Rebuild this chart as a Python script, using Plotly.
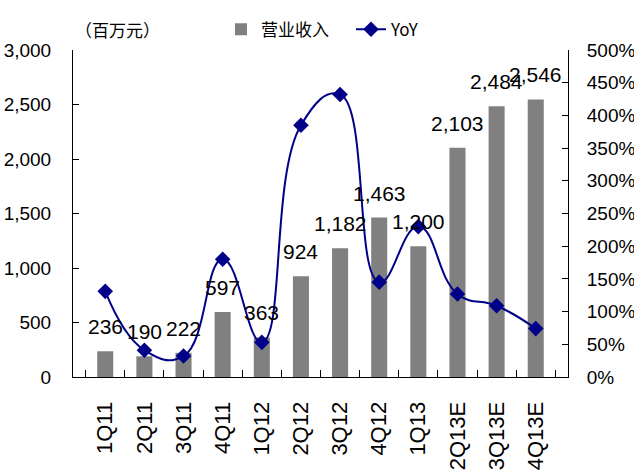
import plotly.graph_objects as go

quarters = ["1Q11", "2Q11", "3Q11", "4Q11", "1Q12", "2Q12", "3Q12", "4Q12",
            "1Q13", "2Q13E", "3Q13E", "4Q13E"]
revenue = [236, 190, 222, 597, 363, 924, 1182, 1463, 1200, 2103, 2484, 2546]
yoy_pct = [131, 41, 32, 180, 53, 385, 432, 145, 230, 127, 109, 74]

font_lat = "Liberation Sans, Arial, sans-serif"
font_cjk = "Noto Sans CJK SC, sans-serif"

fig = go.Figure()

fig.add_trace(go.Bar(
    x=quarters, y=revenue, name="营业收入",
    marker=dict(color="#808080", line=dict(width=0)),
    yaxis="y",
))

fig.add_trace(go.Scatter(
    x=quarters, y=yoy_pct, name="YoY",
    mode="lines+markers",
    line=dict(color="#000088", width=2, shape="spline", smoothing=1.3),
    marker=dict(symbol="diamond", size=12, color="#000088"),
    yaxis="y2",
))

# value labels above each bar
for q, v in zip(quarters, revenue):
    fig.add_annotation(
        x=q, y=v, xref="x", yref="y", text=f"{v:,}",
        showarrow=False, yanchor="bottom", yshift=11,
        font=dict(family=font_lat, size=21, color="black"),
    )

# unit caption above the left axis
fig.add_annotation(
    xref="paper", yref="paper", x=0.0, y=1.062,
    xanchor="left", yanchor="middle",
    text="（百万元）", showarrow=False,
    font=dict(family=font_cjk, size=17, color="black"),
)

fig.update_layout(
    width=634, height=473,
    margin=dict(l=73, r=66, t=38, b=96),
    paper_bgcolor="white", plot_bgcolor="white",
    bargap=0.59,
    showlegend=True,
    legend=dict(
        orientation="h", x=0.299, xanchor="left",
        y=1.062, yanchor="middle",
        font=dict(family=font_cjk, size=17, color="black"),
        bgcolor="rgba(0,0,0,0)", itemwidth=30,
        entrywidth=85, entrywidthmode="pixels",
    ),
    xaxis=dict(
        type="category", tickangle=-90, automargin=False,
        tickfont=dict(family=font_lat, size=22, color="black"),
        ticklabelstandoff=15,
        showline=True, linecolor="black", linewidth=1,
        ticks="inside", tickson="boundaries", ticklen=7, tickcolor="black",
        showgrid=False, zeroline=False,
    ),
    yaxis=dict(
        range=[0, 3000], dtick=500, tickformat=",", automargin=False,
        tickfont=dict(family=font_lat, size=19, color="black"),
        ticklabelstandoff=17,
        showline=True, linecolor="black", linewidth=1,
        ticks="inside", ticklen=6, tickcolor="black",
        showgrid=False, zeroline=False,
    ),
    yaxis2=dict(
        range=[0, 500], dtick=50, ticksuffix="%", automargin=False,
        overlaying="y", side="right",
        tickfont=dict(family=font_lat, size=19, color="black"),
        ticklabelstandoff=14,
        showline=True, linecolor="black", linewidth=1,
        ticks="inside", ticklen=6, tickcolor="black",
        showgrid=False, zeroline=False,
    ),
)

fig.write_html("out.html")
